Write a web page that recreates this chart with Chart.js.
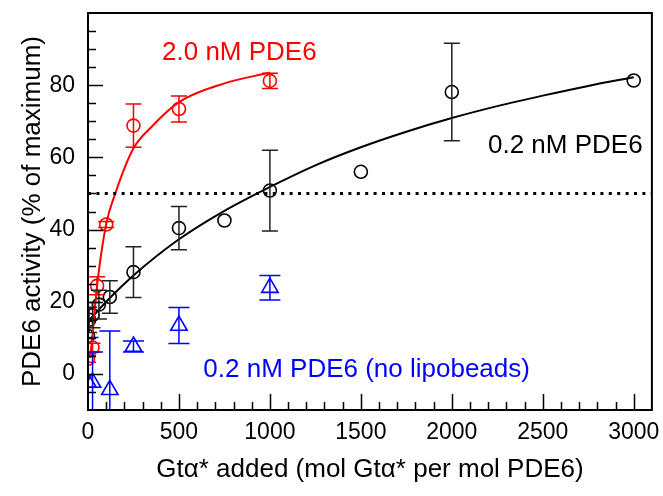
<!DOCTYPE html>
<html>
<head>
<meta charset="utf-8">
<script src="https://cdn.jsdelivr.net/npm/chart.js@4.4.1/dist/chart.umd.min.js"></script>
<style>
  html, body { margin: 0; padding: 0; background: #fff; }
</style>
</head>
<body>
<canvas id="pde6-activity" width="663" height="496"></canvas>
<script>
const red = "#ff0000"
const black = "#000000"
const blue = "#0000ff"

//2.0 nM PDE6
const red_x = [0, 25, 50, 100, 250, 500, 1000]
const red_y = [4.2, 7.3, 24.4, 41.4, 68.8, 73.4, 81.2]
const red_err = [1, 1.2, 2.5, 0.8, 6, 3.6, 2.1]
const red_fit_x = [12, 25, 50, 100, 150, 250, 350, 500, 750, 1000]
const red_fit_y = [4.4, 11, 24.5, 41.5, 50, 62.5, 68.5, 75.3, 80.5, 83.5]

//0.2 nM PDE6
const black_x = [0, 6, 25, 60, 120, 250, 500, 750, 1000, 1500, 2000, 3000]
const black_y = [10.5, 15, 16.3, 19.2, 21.3, 28.2, 40.4, 42.5, 50.8, 56, 78.1, 81.3]
const black_err = [0, 3.5, 3.5, 4, 4.5, 7, 6, 0, 11.2, 0, 13.5, 0]
const black_fit_x = [0, 125, 250, 500, 750, 1000, 1250, 1500, 1750, 2000, 2250, 2500, 2750, 3000]
const black_fit_y = [14.5, 21.3, 27.3, 37.3, 45.2, 51.8, 57.8, 62.8, 67.1, 70.9, 74.2, 77.1, 79.8, 82.2]

//0.2 nM PDE6 (no lipobeads)
const blue_x = [0, 25, 120, 250, 500, 1000]
const blue_y = [-2.4, -2.4, -4.4, 7.6, 13.4, 23.9]
const blue_err = [12.5, 8.5, 16.3, 1.5, 5, 3.4]

//half maximum reference line
const half_max = 50
const x_range = [0, 3100]
const y_range = [-10, 100]

//axis labels
const x_ticks = [0, 500, 1000, 1500, 2000, 2500, 3000]
const y_ticks = [0, 20, 40, 60, 80]
const x_title = "Gt\u03b1* added (mol Gt\u03b1* per mol PDE6)"
const y_title = "PDE6 activity (% of maximum)"

const to_points = (xs, ys) => xs.map((x, i) => ({x: x, y: ys[i]}))

Chart.defaults.font.family = "'Liberation Sans', Arial, sans-serif"
Chart.defaults.color = black

//error bars, drawn through the scales and clipped to the plot
const error_bars = {
    id: 'errorBars',
    afterDatasetsDraw(chart) {
        const {ctx, chartArea, scales: {x, y}} = chart
        ctx.save()
        ctx.beginPath()
        ctx.rect(chartArea.left, chartArea.top, chartArea.width, chartArea.height)
        ctx.clip()
        chart.data.datasets.forEach((ds) => {
            if (!ds.errors) return
            ctx.strokeStyle = ds.errorColor
            ctx.lineWidth = 1.5
            ds.data.forEach((p, i) => {
                const e = ds.errors[i]
                if (!e) return
                const px = x.getPixelForValue(p.x)
                const top = y.getPixelForValue(p.y + e)
                const bottom = y.getPixelForValue(p.y - e)
                const w = ds.capWidth
                ctx.beginPath()
                ctx.moveTo(px, top)
                ctx.lineTo(px, bottom)
                ctx.moveTo(px - w, top)
                ctx.lineTo(px + w, top)
                ctx.moveTo(px - w, bottom)
                ctx.lineTo(px + w, bottom)
                ctx.stroke()
            })
        })
        ctx.restore()
    }
}

//frame, inward ticks and text labels
const notes = [
    {text: "2.0 nM PDE6", color: red, x: 407, y: 87},
    {text: "0.2 nM PDE6", color: black, x: 2199, y: 61.2},
    {text: "0.2 nM PDE6 (no lipobeads)", color: blue, x: 634, y: -0.8},
]
const frame_and_ticks = {
    id: 'frameTicks',
    afterDraw(chart) {
        const {ctx, chartArea: a, scales: {x, y}} = chart
        ctx.save()
        ctx.strokeStyle = black
        ctx.lineWidth = 1.5
        ctx.beginPath()
        for (let v = -5; v < 100; v += 5) {
            const py = Math.round(y.getPixelForValue(v)) + 0.5
            const len = v % 20 == 0 ? 15 : 8
            ctx.moveTo(a.left, py)
            ctx.lineTo(a.left + len, py)
        }
        for (let v = 100; v < 3100; v += 100) {
            const px = Math.round(x.getPixelForValue(v)) + 0.5
            const len = v % 500 == 0 ? 16 : 8
            ctx.moveTo(px, a.bottom)
            ctx.lineTo(px, a.bottom - len)
        }
        ctx.stroke()
        ctx.lineWidth = 2
        ctx.strokeRect(a.left, a.top, a.right - a.left, a.bottom - a.top)

        ctx.font = "26px 'Liberation Sans', Arial, sans-serif"
        ctx.textBaseline = 'alphabetic'
        ctx.textAlign = 'left'
        notes.forEach((n) => {
            ctx.fillStyle = n.color
            ctx.fillText(n.text, x.getPixelForValue(n.x), y.getPixelForValue(n.y))
        })
        ctx.restore()
    }
}

const ctx = document.getElementById('pde6-activity')
new Chart(ctx, {
    type: "scatter",
    data: {
        datasets: [{
            data: to_points(x_range, [half_max, half_max]),
            showLine: true,
            borderColor: black,
            borderWidth: 3,
            borderDash: [3, 5.4],
            pointRadius: 0,
        },{
            data: to_points(red_fit_x, red_fit_y),
            showLine: true,
            borderColor: red,
            borderWidth: 2,
            cubicInterpolationMode: 'monotone',
            pointRadius: 0,
        },{
            data: to_points(black_fit_x, black_fit_y),
            showLine: true,
            borderColor: black,
            borderWidth: 2,
            cubicInterpolationMode: 'monotone',
            pointRadius: 0,
        },{
            data: to_points(red_x, red_y),
            errors: red_err,
            errorColor: red,
            capWidth: 8,
            pointStyle: 'circle',
            pointRadius: 6.5,
            borderWidth: 1.6,
            borderColor: red,
            backgroundColor: 'rgba(0,0,0,0)',
        },{
            data: to_points(black_x, black_y),
            errors: black_err,
            errorColor: "#222",
            capWidth: 8,
            pointStyle: 'circle',
            pointRadius: 6.5,
            borderWidth: 1.6,
            borderColor: black,
            backgroundColor: 'rgba(0,0,0,0)',
        },{
            data: to_points(blue_x, blue_y),
            errors: blue_err,
            errorColor: blue,
            capWidth: 10.5,
            pointStyle: 'triangle',
            pointRadius: 9.5,
            borderWidth: 1.6,
            borderColor: blue,
            backgroundColor: 'rgba(0,0,0,0)',
        }]
    },
    options: {
        responsive: false,
        animation: false,
        devicePixelRatio: 1,
        layout: {
            padding: {left: 0, right: 8, top: 13, bottom: 0}
        },
        plugins: {
            legend: {display: false},
            tooltip: {enabled: false},
        },
        scales: {
            x: {
                type: 'linear',
                min: x_range[0],
                max: x_range[1],
                afterBuildTicks: (scale) => { scale.ticks = x_ticks.map((v) => ({value: v})) },
                afterFit: (scale) => {
                    scale.height = 86
                    scale.paddingLeft = 0
                    scale.paddingRight = 0
                },
                grid: {display: false, drawTicks: false},
                border: {display: false},
                ticks: {
                    padding: 9,
                    maxRotation: 0,
                    color: black,
                    font: {size: 23},
                    callback: (value) => String(value),
                },
                title: {
                    display: true,
                    text: x_title,
                    color: black,
                    font: {size: 26},
                    padding: {top: 0, bottom: 11},
                }
            },
            y: {
                type: 'linear',
                min: y_range[0],
                max: y_range[1],
                afterBuildTicks: (scale) => { scale.ticks = y_ticks.map((v) => ({value: v})) },
                afterFit: (scale) => {
                    scale.width = 88
                    scale.paddingTop = 0
                    scale.paddingBottom = 0
                },
                grid: {display: false, drawTicks: false},
                border: {display: false},
                ticks: {
                    padding: 13,
                    color: black,
                    font: {size: 23},
                    callback: (value) => String(value),
                },
                title: {
                    display: true,
                    text: y_title,
                    color: black,
                    font: {size: 26},
                    padding: {top: 17, bottom: 0},
                }
            }
        }
    },
    plugins: [error_bars, frame_and_ticks]
});
</script>
</body>
</html>
